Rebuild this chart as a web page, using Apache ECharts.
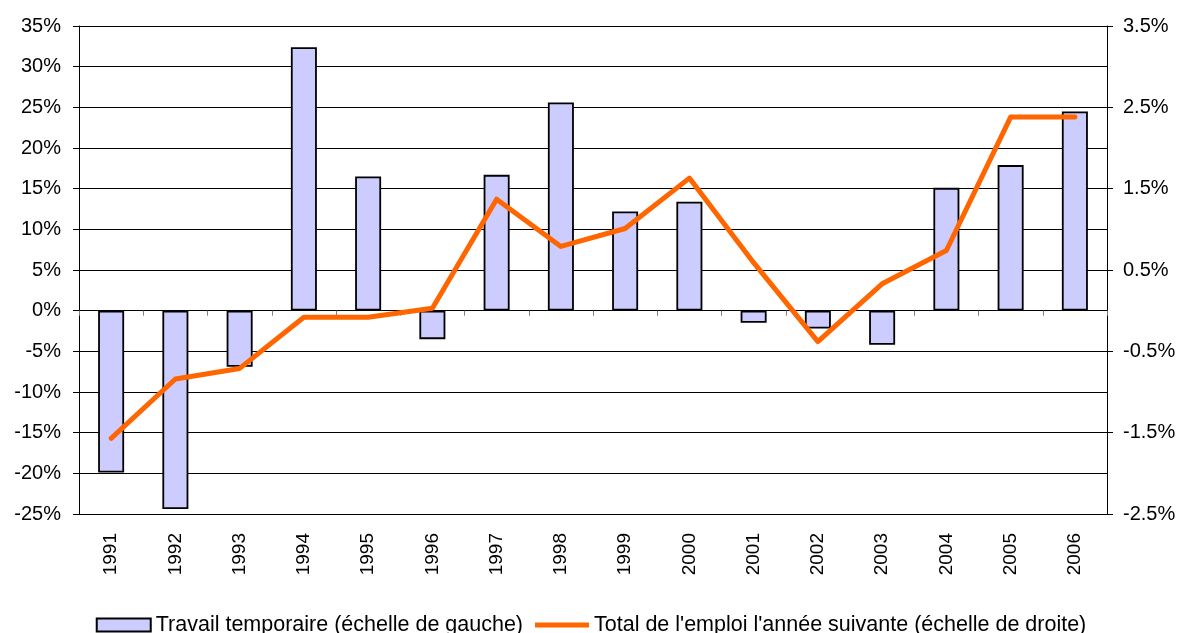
<!DOCTYPE html>
<html>
<head>
<meta charset="utf-8">
<script src="https://cdn.jsdelivr.net/npm/echarts@6/dist/echarts.min.js"></script>
<style>
  html, body { margin: 0; padding: 0; background: #fff; }
  #chart { width: 1182px; height: 633px; }
</style>
</head>
<body>
<div id="chart"></div>
<script>
const years = ['1991', '1992', '1993', '1994', '1995', '1996', '1997', '1998',
    '1999', '2000', '2001', '2002', '2003', '2004', '2005', '2006']
// travail temporaire, % (left axis)
const tempWork = [-19.9, -24.4, -6.9, 32.4, 16.5, -3.5, 16.7, 25.6,
    12.2, 13.4, -1.5, -2.2, -4.2, 15.1, 17.9, 24.5]
// total de l'emploi l'année suivante, % (right axis)
const totalEmployment = [-1.57, -0.84, -0.71, -0.08, -0.08, 0.03, 1.37, 0.79,
    1.01, 1.63, 0.59, -0.38, 0.33, 0.74, 2.38, 2.38]
const rightTicks = [-2.5, -1.5, -0.5, 0.5, 1.5, 2.5, 3.5]

const seriesNames = ['Travail temporaire (échelle de gauche)',
    "Total de l'emploi l'année suivante (échelle de droite)"]

const chart = echarts.init(document.getElementById('chart'))
const font = 'Liberation Sans, Arial, sans-serif'

const option = {
    backgroundColor: '#fff',
    animation: false,
    textStyle: { fontFamily: font },
    grid: { left: 79, right: 75, top: 26, bottom: 119, containLabel: false },
    legend: {
        left: 'center',
        top: 609,
        itemWidth: 54,
        itemHeight: 13,
        itemGap: 12,
        textStyle: { fontFamily: font, fontSize: 21.5, color: '#000' },
        data: [
            { name: seriesNames[0], icon: 'rect' },
            { name: seriesNames[1], icon: 'path://M0,0L54,0L54,5L0,5Z' },
        ],
    },
    xAxis: [{
        type: 'category',
        data: years,
        position: 'bottom',
        axisLine: { show: false, onZero: false },
        axisTick: { show: false },
        axisLabel: {
            rotate: 90,
            margin: 19,
            fontSize: 19,
            color: '#000',
            fontFamily: font,
            interval: 0,
        },
    }, {
        // zero line with ticks between categories
        type: 'category',
        data: years,
        position: 'bottom',
        axisLine: { show: true, onZero: true, onZeroAxisIndex: 0, lineStyle: { color: '#000', width: 1 } },
        axisTick: { show: true, length: 5, lineStyle: { color: '#808080' } },
        axisLabel: { show: false },
    }],
    yAxis: [{
        type: 'value',
        min: -25,
        max: 35,
        interval: 5,
        axisLine: { show: true, lineStyle: { color: '#000', width: 1 } },
        axisTick: { show: true, length: 6, lineStyle: { color: '#000' } },
        splitLine: { show: true, lineStyle: { color: '#000', width: 1 } },
        axisLabel: {
            formatter: '{value}%',
            fontSize: 20,
            color: '#000',
            margin: 18,
            fontFamily: font,
        },
    }, {
        type: 'value',
        min: -2.5,
        max: 3.5,
        position: 'right',
        axisLine: { show: true, lineStyle: { color: '#000', width: 1 } },
        axisTick: { show: true, length: 6, lineStyle: { color: '#000' }, customValues: rightTicks },
        splitLine: { show: false },
        axisLabel: {
            customValues: rightTicks,
            formatter: (v) => v.toFixed(1) + '%',
            fontSize: 20,
            color: '#000',
            margin: 16,
            fontFamily: font,
        },
    }],
    series: [{
        name: seriesNames[0],
        type: 'bar',
        xAxisIndex: 0,
        yAxisIndex: 0,
        barWidth: 26,
        itemStyle: { color: '#CCCCFF', borderColor: '#000', borderWidth: 1.8 },
        data: tempWork,
    }, {
        name: seriesNames[1],
        type: 'line',
        xAxisIndex: 0,
        yAxisIndex: 1,
        symbol: 'none',
        z: 5,
        lineStyle: { color: '#FF6600', width: 5, cap: 'round', join: 'round' },
        itemStyle: { color: '#FF6600' },
        data: totalEmployment,
    }],
}
chart.setOption(option)
</script>
</body>
</html>
